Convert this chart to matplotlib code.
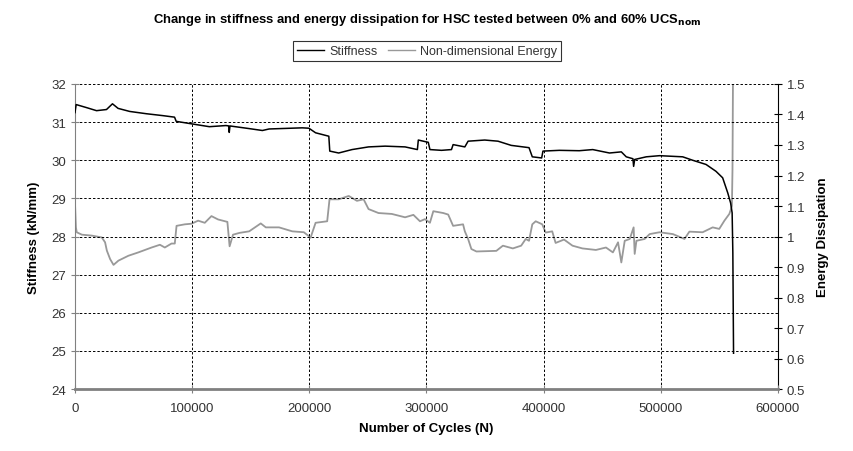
import matplotlib
matplotlib.use("Agg")
import matplotlib.pyplot as plt
from matplotlib.ticker import MultipleLocator, FixedLocator

plt.rcParams['font.family'] = ['Liberation Sans', 'DejaVu Sans']

stiff_cycles = [0, 1000, 9900, 18400, 26900, 32000, 36800, 46700, 60900, 75000, 85000, 86400,
                100500, 114700, 128900, 131200, 131700, 132300, 134500, 148700, 160000, 165700,
                194000, 199700, 205400, 216700, 217500, 225100, 236500, 250600, 264800, 281800,
                292300, 293100, 301600, 303000, 312900, 321400, 322800, 332800, 335600, 349800,
                361100, 372400, 387600, 390400, 398400, 399500, 413500, 430500, 442000, 456300,
                466400, 470600, 476300, 476900, 477800, 487700, 499000, 518800, 527300, 538700,
                547200, 552900, 557300, 559700, 561000, 561600, 562200]
stiffness = [31.25, 31.46, 31.38, 31.30, 31.33, 31.48, 31.36, 31.28, 31.22, 31.17, 31.13, 31.02,
             30.95, 30.88, 30.91, 30.90, 30.73, 30.90, 30.89, 30.83, 30.78, 30.82,
             30.85, 30.84, 30.72, 30.63, 30.24, 30.19, 30.28, 30.35, 30.37, 30.35,
             30.28, 30.53, 30.47, 30.28, 30.26, 30.28, 30.41, 30.35, 30.50, 30.53,
             30.50, 30.39, 30.33, 30.09, 30.06, 30.24, 30.26, 30.25, 30.28, 30.19,
             30.22, 30.09, 30.04, 29.84, 30.02, 30.09, 30.12, 30.09, 30.00, 29.89,
             29.71, 29.54, 29.14, 28.88, 28.62, 27.57, 24.94]

energy_cycles = [0, 800, 1500, 5900, 14400, 22900, 25700, 27200, 30000, 32900, 37100, 45600,
                 54100, 65400, 72500, 76700, 82400, 85200, 86700, 93800, 99500, 105100, 110800,
                 116500, 122100, 130100, 132000, 134900, 140500, 148700, 158600, 162900, 174200,
                 185500, 195400, 199700, 201100, 205400, 215300, 217300, 225200, 233700, 240700,
                 246400, 250600, 259100, 270500, 281800, 288900, 294500, 298800, 303000, 305900,
                 314400, 318600, 322800, 331300, 332800, 335600, 338400, 342700, 359700, 365300,
                 373800, 380900, 384800, 387600, 390400, 393300, 398900, 401800, 407400, 410300,
                 417500, 424700, 433200, 444700, 453300, 459200, 463600, 466400, 469300, 473600,
                 476900, 477800, 479300, 486300, 490600, 499000, 510400, 520300, 524500, 535800,
                 544400, 550000, 554400, 558600, 560000, 560800, 561300, 561700]
energy = [1.11, 1.03, 1.014, 1.006, 1.003, 0.997, 0.981, 0.954, 0.926, 0.907, 0.921, 0.937,
          0.948, 0.964, 0.973, 0.964, 0.977, 0.977, 1.035, 1.040, 1.042, 1.052, 1.045,
          1.067, 1.056, 1.048, 0.968, 1.006, 1.012, 1.017, 1.043, 1.030, 1.030,
          1.017, 1.014, 1.001, 0.996, 1.045, 1.050, 1.122, 1.122, 1.133, 1.117,
          1.122, 1.090, 1.077, 1.074, 1.063, 1.071, 1.050, 1.057, 1.045, 1.083,
          1.077, 1.072, 1.035, 1.040, 1.017, 0.992, 0.959, 0.951, 0.953, 0.970,
          0.961, 0.970, 0.992, 0.986, 1.040, 1.050, 1.040, 1.013, 1.017, 0.979,
          0.990, 0.970, 0.961, 0.956, 0.964, 0.948, 0.981, 0.915, 0.986, 0.992,
          1.030, 0.943, 0.986, 0.992, 1.008, 1.014, 1.008, 0.992, 1.016, 1.014,
          1.030, 1.025, 1.052, 1.074, 1.090, 1.100, 1.220, 1.500]

x_ticks = [0, 100000, 200000, 300000, 400000, 500000, 600000]

fig = plt.figure(figsize=(8.54, 4.52), dpi=100)
ax = fig.add_axes([0.0878, 0.137, 0.823, 0.675])
ax2 = ax.twinx()

l1, = ax.plot(stiff_cycles, stiffness, color='black', lw=1.1, label='Stiffness', zorder=3)
l2, = ax2.plot(energy_cycles, energy, color='#999999', lw=1.3, label='Non-dimensional Energy', zorder=2)
ax.set_zorder(ax2.get_zorder() + 1)
ax.patch.set_visible(False)

ax.set_xlim(0, 600000)
ax.set_ylim(24, 32)
ax2.set_ylim(0.5, 1.5)
ax.xaxis.set_major_locator(FixedLocator(x_ticks))
ax.set_xticklabels([str(v) for v in x_ticks])
ax.yaxis.set_major_locator(MultipleLocator(1))
ax2.set_yticks([0.5 + 0.1 * i for i in range(11)])
ax2.set_yticklabels(['0.5', '0.6', '0.7', '0.8', '0.9', '1', '1.1', '1.2', '1.3', '1.4', '1.5'])

ax.grid(True, which='major', color='black', linestyle=(0, (2.5, 2)), linewidth=0.7)
ax.set_axisbelow(True)

for a in (ax, ax2):
    a.spines['top'].set_visible(False)
ax.spines['right'].set_visible(False)
ax2.spines['left'].set_visible(False)
ax2.spines['bottom'].set_visible(False)
ax.spines['left'].set_color('#808080')
ax.spines['bottom'].set_color('#808080')
ax.spines['bottom'].set_linewidth(2)
ax2.spines['right'].set_color('black')

ax.tick_params(axis='y', direction='inout', length=6, width=0.8, colors='#808080', labelcolor='#333333', labelsize=9.5)
ax.tick_params(axis='x', direction='inout', length=6, width=0.8, colors='#808080', labelcolor='#333333', labelsize=9.5, pad=6)
ax2.tick_params(axis='y', direction='inout', length=6, width=0.8, colors='black', labelcolor='#333333', labelsize=9.5)

ax.set_xlabel('Number of Cycles (N)', fontsize=9.5, fontweight='bold', labelpad=6)
ax.set_ylabel('Stiffness (kN/mm)', fontsize=9.5, fontweight='bold', labelpad=8)
ax2.set_ylabel('Energy Dissipation', fontsize=9.5, fontweight='bold', labelpad=8)

fig.text(0.5, 0.955, r'Change in stiffness and energy dissipation for HSC tested between 0% and 60% UCS$_{\mathbf{nom}}$',
         ha='center', va='center', fontsize=9.4, fontweight='bold')

leg = fig.legend([l1, l2], ['Stiffness', 'Non-dimensional Energy'], loc='center',
                 bbox_to_anchor=(0.5, 0.885), ncol=2, frameon=True, fancybox=False,
                 edgecolor='black', fontsize=9, handlelength=2.2, handletextpad=0.4,
                 columnspacing=0.8, borderpad=0.3)
leg.get_frame().set_linewidth(0.8)
leg.get_lines()[0].set_linewidth(1.0)
leg.get_lines()[1].set_linewidth(1.0)
for t in leg.get_texts():
    t.set_color('#333333')

fig.savefig('out.png', dpi=100)
